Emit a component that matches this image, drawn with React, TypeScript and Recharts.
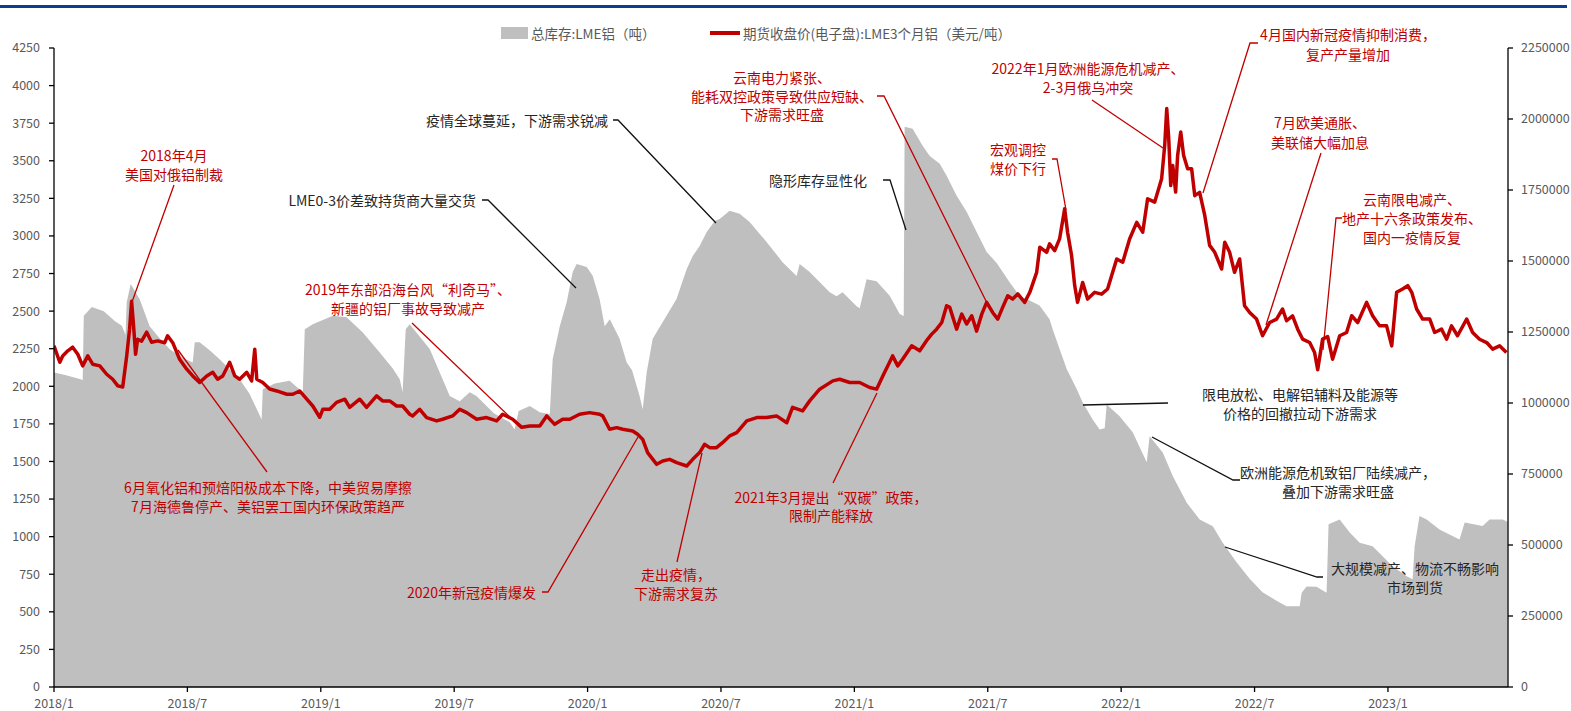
import React from "react";
import { ComposedChart, Area, Line, XAxis, YAxis } from "recharts";

// t = months since 2018/1
// LME aluminium total stocks (tonnes), right axis
const stock2018: [number, number][] = [
  [0, 1107000], [0.5, 1099000], [1.2, 1084000], [1.29, 1080000], [1.34, 1307000], [1.7, 1338000],
  [2.24, 1323000], [2.73, 1289000], [3.05, 1272000], [3.22, 1239000], [3.27, 1355000], [3.45, 1419000],
  [3.85, 1366000], [4.3, 1270000], [4.75, 1228000], [5.2, 1190000], [5.65, 1165000], [6.24, 1143000],
  [6.33, 1214000], [6.55, 1214000], [7.0, 1186000], [7.45, 1154000], [8.35, 1084000], [8.8, 1032000],
  [9.34, 942000], [9.39, 1048000], [9.93, 1069000], [10.6, 1078000], [11.19, 1038000], [11.28, 1260000],
  [11.64, 1277000],
];
const stock2019: [number, number][] = [
  [12.54, 1307000], [13.16, 1302000], [13.88, 1249000], [14.65, 1178000], [15.23, 1122000], [15.55, 1084000],
  [15.68, 1038000], [15.82, 1260000], [16.0, 1277000], [16.9, 1190000], [17.48, 1084000], [17.8, 1025000],
  [18.25, 1006000], [18.7, 1038000], [19.0, 1025000], [19.8, 963000], [20.5, 932000], [20.72, 907000],
  [20.9, 972000], [21.4, 989000], [21.85, 967000], [22.3, 960000], [22.43, 1154000], [22.75, 1270000],
  [23.06, 1355000], [23.33, 1461000], [23.51, 1489000], [23.96, 1479000],
];
const stock2020: [number, number][] = [
  [24.23, 1448000], [24.54, 1366000], [24.77, 1270000], [25.0, 1295000], [25.44, 1226000], [25.76, 1143000],
  [26.0, 1115000], [26.34, 1025000], [26.48, 978000], [26.66, 1108000], [26.93, 1226000], [27.55, 1307000],
  [28.0, 1366000], [28.46, 1472000], [28.73, 1518000], [29.04, 1553000], [29.36, 1602000], [29.72, 1641000],
  [29.94, 1648000], [30.39, 1677000], [30.84, 1666000], [31.29, 1637000], [32.05, 1567000], [32.77, 1496000],
  [33.4, 1447000], [33.54, 1489000], [33.99, 1461000], [34.89, 1390000], [35.2, 1376000], [35.47, 1390000],
];
const stock2021: [number, number][] = [
  [36.1, 1341000], [36.24, 1334000], [36.55, 1436000], [37.0, 1429000], [37.59, 1378000], [38.04, 1313000],
  [38.22, 1306000], [38.26, 1973000], [38.62, 1966000], [39.07, 1906000], [39.39, 1870000], [39.84, 1842000],
  [40.15, 1800000], [40.6, 1730000], [41.05, 1673000], [41.5, 1602000], [41.95, 1532000], [42.4, 1493000],
  [42.99, 1424000], [43.44, 1376000], [43.75, 1366000], [44.33, 1343000], [44.78, 1295000], [44.92, 1260000],
  [45.23, 1190000], [45.55, 1120000], [46.0, 1049000], [46.27, 1002000], [46.72, 942000], [47.03, 907000],
  [47.26, 911000], [47.35, 995000], [47.93, 953000],
];
const stock2022: [number, number][] = [
  [48.52, 897000], [49.15, 791000], [49.28, 883000], [49.87, 826000], [50.32, 743000], [50.95, 649000],
  [51.53, 590000], [52.12, 566000], [52.56, 509000], [53.19, 439000], [53.78, 381000], [54.36, 334000],
  [54.99, 304000], [55.44, 284000], [56.03, 284000], [56.12, 332000], [56.34, 354000], [56.79, 353000],
  [57.24, 332000], [57.33, 573000], [57.83, 590000], [58.28, 544000], [58.73, 508000], [59.31, 496000],
  [59.76, 460000],
];
const stock2023: [number, number][] = [
  [60.21, 425000], [60.84, 390000], [61.11, 379000], [61.2, 496000], [61.42, 602000], [61.74, 590000],
  [62.32, 555000], [62.9, 532000], [63.22, 519000], [63.45, 579000], [64.26, 567000], [64.57, 590000],
  [65.16, 590000], [65.38, 582000],
];

// LME 3-month aluminium close (USD/t), left axis
const price2018: [number, number][] = [
  [0, 2269], [0.26, 2160], [0.39, 2202], [0.62, 2236], [0.84, 2260], [1.07, 2213], [1.29, 2136], [1.52, 2202],
  [1.74, 2147], [2.06, 2136], [2.37, 2080], [2.64, 2047], [2.87, 2003], [3.09, 1995], [3.27, 2202], [3.4, 2380],
  [3.49, 2565], [3.58, 2400], [3.63, 2293], [3.67, 2213], [3.76, 2313], [3.94, 2300], [4.17, 2360], [4.39, 2293],
  [4.66, 2302], [4.98, 2290], [5.11, 2336], [5.34, 2290], [5.65, 2180], [5.97, 2114], [6.24, 2069], [6.55, 2025],
  [6.87, 2069], [7.14, 2093], [7.36, 2047], [7.59, 2069], [7.9, 2160], [8.13, 2069], [8.35, 2047], [8.67, 2093],
  [8.89, 2036], [9.03, 2247], [9.12, 2047], [9.39, 2025], [9.7, 1982], [10.02, 1969], [10.47, 1947], [10.74, 1947],
  [11.05, 1969], [11.37, 1914], [11.64, 1869], [11.95, 1794],
];
const price2019: [number, number][] = [
  [12.09, 1847], [12.4, 1847], [12.71, 1893], [13.08, 1914], [13.3, 1860], [13.75, 1914], [14.06, 1860],
  [14.51, 1936], [14.78, 1903], [15.1, 1903], [15.41, 1869], [15.68, 1869], [16.0, 1814], [16.13, 1803],
  [16.45, 1847], [16.76, 1792], [17.21, 1770], [17.48, 1781], [17.93, 1803], [18.25, 1847], [18.56, 1825],
  [19.01, 1781], [19.46, 1792], [19.91, 1770], [20.18, 1814], [20.63, 1781], [21.04, 1727], [21.4, 1736],
  [21.85, 1736], [22.16, 1803], [22.52, 1747], [22.88, 1781], [23.2, 1781], [23.64, 1814],
];
const price2020: [number, number][] = [
  [24.09, 1825], [24.54, 1814], [24.68, 1803], [24.99, 1714], [25.31, 1725], [25.58, 1714], [26.03, 1703],
  [26.25, 1681], [26.48, 1647], [26.7, 1559], [27.11, 1481], [27.38, 1503], [27.69, 1514], [28.01, 1492],
  [28.46, 1470], [28.73, 1514], [29.04, 1559], [29.26, 1614], [29.49, 1592], [29.8, 1592], [30.07, 1625],
  [30.39, 1670], [30.71, 1692], [31.16, 1770], [31.61, 1792], [32.05, 1792], [32.5, 1803], [32.96, 1758],
  [33.22, 1860], [33.67, 1836], [33.99, 1903], [34.44, 1981], [35.03, 2036], [35.34, 2047], [35.79, 2025],
];
const price2021: [number, number][] = [
  [36.24, 2025], [36.69, 1992], [37.0, 1981], [37.28, 2068], [37.72, 2202], [37.95, 2136], [38.17, 2180],
  [38.58, 2269], [38.94, 2236], [39.3, 2314], [39.48, 2347], [39.7, 2380], [39.93, 2424], [40.15, 2536],
  [40.29, 2525], [40.6, 2380], [40.83, 2480], [41.05, 2414], [41.28, 2469], [41.5, 2367], [41.73, 2480],
  [41.95, 2558], [42.22, 2491], [42.45, 2447], [42.67, 2525], [42.9, 2602], [43.12, 2580], [43.35, 2614],
  [43.66, 2558], [43.89, 2625], [44.2, 2758], [44.34, 2925], [44.65, 2891], [44.78, 2947], [45.01, 2902],
  [45.23, 2980], [45.46, 3180], [45.59, 3025], [45.77, 2870], [45.91, 2670], [46.04, 2558], [46.27, 2690],
  [46.49, 2580], [46.81, 2625], [47.12, 2613], [47.39, 2647], [47.57, 2736], [47.8, 2847],
];
const price2022: [number, number][] = [
  [48.07, 2825], [48.38, 2980], [48.7, 3090], [48.97, 3025], [49.19, 3247], [49.51, 3225], [49.82, 3380],
  [49.96, 3603], [50.05, 3847], [50.14, 3647], [50.23, 3335], [50.32, 3469], [50.45, 3292], [50.54, 3535],
  [50.68, 3691], [50.81, 3535], [50.99, 3447], [51.17, 3447], [51.31, 3268], [51.53, 3290], [51.76, 3136],
  [51.98, 2937], [52.21, 2891], [52.52, 2780], [52.66, 2958], [52.88, 2891], [53.1, 2758], [53.33, 2847],
  [53.55, 2536], [53.78, 2491], [54.09, 2447], [54.36, 2336], [54.68, 2424], [54.99, 2447], [55.26, 2514],
  [55.44, 2436], [55.71, 2469], [55.94, 2380], [56.16, 2314], [56.48, 2291], [56.7, 2225], [56.84, 2110],
  [57.06, 2314], [57.29, 2330], [57.51, 2180], [57.83, 2336], [58.14, 2358], [58.37, 2469], [58.64, 2424],
  [59.04, 2558], [59.31, 2469], [59.62, 2402], [59.94, 2402],
];
const price2023: [number, number][] = [
  [60.17, 2269], [60.39, 2625], [60.66, 2647], [60.89, 2669], [61.07, 2625], [61.29, 2514], [61.56, 2447],
  [61.88, 2447], [62.1, 2358], [62.41, 2380], [62.64, 2313], [62.86, 2402], [63.13, 2336], [63.54, 2447],
  [63.81, 2358], [64.12, 2313], [64.44, 2291], [64.71, 2247], [65.02, 2269], [65.33, 2224],
];

const xTicks = [0, 6, 12, 18, 24, 30, 36, 42, 48, 54, 60];
const leftTicks = [0, 250, 500, 750, 1000, 1250, 1500, 1750, 2000, 2250, 2500, 2750, 3000, 3250, 3500, 3750, 4000, 4250];
const rightTicks = [0, 250000, 500000, 750000, 1000000, 1250000, 1500000, 1750000, 2000000, 2250000];
const legendNames = ["总库存:LME铝（吨）", "期货收盘价(电子盘):LME3个月铝（美元/吨）"];

const stockData = [...stock2018, ...stock2019, ...stock2020, ...stock2021, ...stock2022, ...stock2023].map(
  ([t, v]) => ({ t, stock: v })
);
const priceData = [...price2018, ...price2019, ...price2020, ...price2021, ...price2022, ...price2023].map(
  ([t, v]) => ({ t, price: v })
);

const fmtMonth = (t: number) => `${2018 + Math.floor(t / 12)}/${(t % 12) + 1}`;

const RED = "#C00000";
const DARK = "#262626";
const FONT = '"Noto Sans CJK SC", "Noto Sans", sans-serif';

type Note = {
  lines: string[];
  x: number;
  ys: number[];
  color: string;
  anchor?: "start" | "middle" | "end";
  leader: [number, number][];
};

const notes: Note[] = [
  { lines: ["2018年4月", "美国对俄铝制裁"], x: 174, ys: [155, 173.5], color: RED, leader: [[174, 185], [132, 302]] },
  {
    lines: ["6月氧化铝和预焙阳极成本下降，中美贸易摩擦", "7月海德鲁停产、美铝罢工国内环保政策趋严"],
    x: 268, ys: [486.7, 505.7], color: RED, leader: [[267, 472], [178, 350]],
  },
  { lines: ["LME0-3价差致持货商大量交货"], x: 476, ys: [200], color: DARK, anchor: "end", leader: [[482, 200], [488, 200], [576, 288]] },
  { lines: ["疫情全球蔓延，下游需求锐减"], x: 608, ys: [120], color: DARK, anchor: "end", leader: [[613, 120], [618, 120], [716, 223]] },
  {
    lines: ["2019年东部沿海台风“利奇马”、", "新疆的铝厂事故导致减产"],
    x: 408, ys: [289, 308], color: RED, leader: [[412, 323], [514, 421]],
  },
  { lines: ["2020年新冠疫情爆发"], x: 536, ys: [591.7], color: RED, anchor: "end", leader: [[542, 592], [548, 592], [638, 437]] },
  { lines: ["走出疫情，", "下游需求复苏"], x: 676, ys: [574.3, 593.3], color: RED, leader: [[677, 562], [702, 453]] },
  { lines: ["2021年3月提出“双碳”政策，", "限制产能释放"], x: 831, ys: [496.7, 515], color: RED, leader: [[833, 483], [877, 393]] },
  {
    lines: ["云南电力紧张、", "能耗双控政策导致供应短缺、", "下游需求旺盛"],
    x: 782, ys: [76.7, 96, 114], color: RED, leader: [[877, 96], [884, 96], [987, 303]],
  },
  { lines: ["隐形库存显性化"], x: 867, ys: [180], color: DARK, anchor: "end", leader: [[883, 180], [890, 180], [906, 230]] },
  { lines: ["宏观调控", "煤价下行"], x: 1018, ys: [149, 167.7], color: RED, leader: [[1052, 159], [1057, 159], [1066, 210]] },
  {
    lines: ["2022年1月欧洲能源危机减产、", "2-3月俄乌冲突"],
    x: 1088, ys: [68.3, 87.3], color: RED, leader: [[1092, 100], [1163, 148]],
  },
  {
    lines: ["4月国内新冠疫情抑制消费，", "复产产量增加"],
    x: 1348, ys: [34.3, 54], color: RED, leader: [[1258, 43], [1250, 43], [1203, 193]],
  },
  { lines: ["7月欧美通胀、", "美联储大幅加息"], x: 1320, ys: [122.3, 141.7], color: RED, leader: [[1321, 153], [1266, 325]] },
  {
    lines: ["云南限电减产、", "地产十六条政策发布、", "国内一疫情反复"],
    x: 1412, ys: [199.3, 218.3, 236.7], color: RED, leader: [[1342, 218], [1336, 218], [1323, 350]],
  },
  {
    lines: ["限电放松、电解铝辅料及能源等", "价格的回撤拉动下游需求"],
    x: 1300, ys: [394, 412.7], color: DARK, leader: [[1168, 403], [1083, 405]],
  },
  {
    lines: ["欧洲能源危机致铝厂陆续减产，", "叠加下游需求旺盛"],
    x: 1338, ys: [471.7, 491], color: DARK, leader: [[1240, 480], [1233, 480], [1152, 437]],
  },
  {
    lines: ["大规模减产、物流不畅影响", "市场到货"],
    x: 1415, ys: [568.3, 587.3], color: DARK, leader: [[1323, 577], [1317, 577], [1225, 547]],
  },
];

const tickStyle = { fill: "#595959", fontSize: 12.5, fontFamily: FONT };

export default function App() {
  return (
    <div style={{ position: "absolute", left: 0, top: 0, width: 1571, height: 711, background: "#fff", overflow: "hidden" }}>
      <div style={{ position: "absolute", left: 0, top: 5, width: 1567, height: 3, background: "#0D3D8E" }} />
      <ComposedChart width={1571} height={711} margin={{ top: 48, right: 0, bottom: 0, left: 0 }}>
        <XAxis
          dataKey="t"
          type="number"
          domain={[0, 65.4]}
          allowDataOverflow
          ticks={xTicks}
          interval={0}
          tickFormatter={fmtMonth}
          height={24}
          tickSize={5}
          tickMargin={7}
          tick={tickStyle}
          axisLine={{ stroke: "#000", strokeWidth: 1.3 }}
          tickLine={{ stroke: "#000", strokeWidth: 1.3 }}
        />
        <YAxis
          yAxisId="left"
          orientation="left"
          domain={[0, 4250]}
          ticks={leftTicks}
          interval={0}
          width={54}
          tickSize={5}
          tickMargin={9}
          tick={tickStyle}
          axisLine={{ stroke: "#000", strokeWidth: 1.3 }}
          tickLine={{ stroke: "#000", strokeWidth: 1.3 }}
        />
        <YAxis
          yAxisId="right"
          orientation="right"
          domain={[0, 2250000]}
          ticks={rightTicks}
          interval={0}
          width={63}
          tickSize={5}
          tickMargin={8}
          tick={tickStyle}
          axisLine={{ stroke: "#000", strokeWidth: 1.3 }}
          tickLine={{ stroke: "#000", strokeWidth: 1.3 }}
        />
        <Area
          yAxisId="right"
          data={stockData}
          dataKey="stock"
          type="linear"
          fill="#BFBFBF"
          fillOpacity={1}
          stroke="none"
          dot={false}
          activeDot={false}
          isAnimationActive={false}
        />
        <Line
          yAxisId="left"
          data={priceData}
          dataKey="price"
          type="linear"
          stroke={RED}
          strokeWidth={3.5}
          strokeLinejoin="round"
          dot={false}
          activeDot={false}
          isAnimationActive={false}
        />
      </ComposedChart>
      <svg
        width={1571}
        height={711}
        style={{ position: "absolute", left: 0, top: 0, pointerEvents: "none" }}
        fontFamily={FONT}
      >
        <rect x={501} y={27} width={27} height={12} fill="#BFBFBF" />
        <text x={531} y={33} fontSize={13.5} fill="#595959" dominantBaseline="central">{legendNames[0]}</text>
        <line x1={710} y1={33} x2={740} y2={33} stroke={RED} strokeWidth={4} />
        <text x={743} y={33} fontSize={13.5} fill="#595959" dominantBaseline="central">{legendNames[1]}</text>
        {notes.map((n, i) => (
          <g key={i}>
            <polyline
              points={n.leader.map((p) => p.join(",")).join(" ")}
              fill="none"
              stroke={n.color === RED ? RED : "#111"}
              strokeWidth={1.3}
            />
            {n.lines.map((l, j) => (
              <text
                key={j}
                x={n.x}
                y={n.ys[j]}
                textAnchor={n.anchor || "middle"}
                dominantBaseline="central"
                fontSize={14}
                fill={n.color}
              >
                {l}
              </text>
            ))}
          </g>
        ))}
      </svg>
    </div>
  );
}
